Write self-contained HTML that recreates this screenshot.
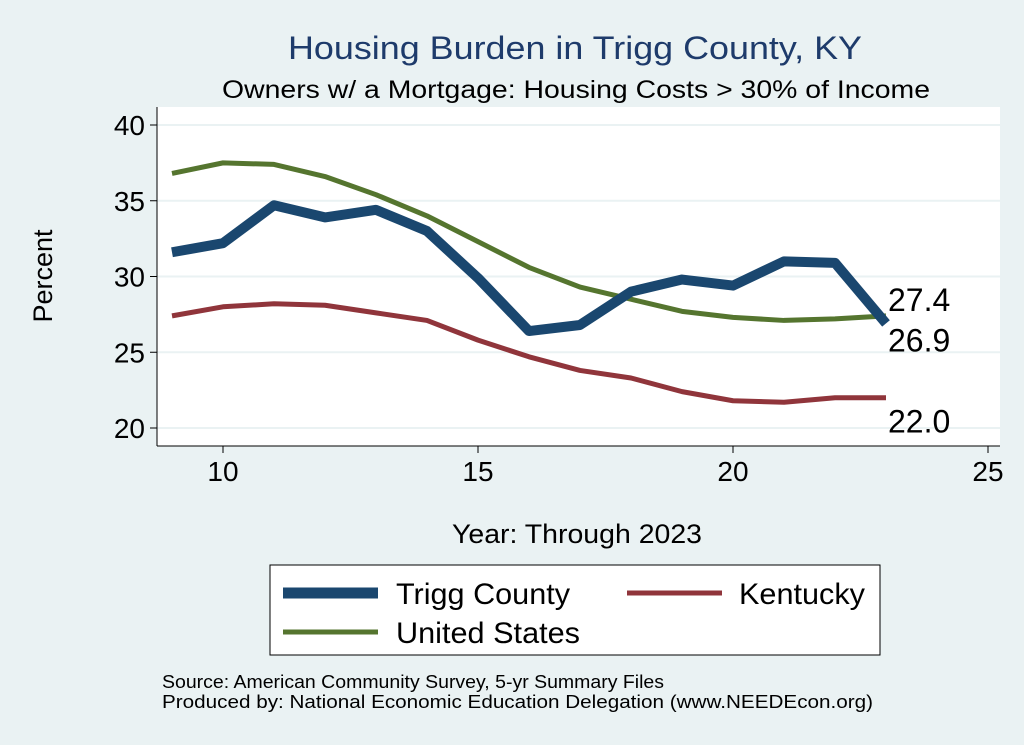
<!DOCTYPE html>
<html><head><meta charset="utf-8"><style>
body{margin:0;background:#eaf2f3;}
svg{display:block;font-family:"Liberation Sans",Arial,sans-serif;}
</style></head><body>
<svg width="1024" height="745">
<rect x="0" y="0" width="1024" height="745" fill="#eaf2f3"/>
<rect x="157" y="107" width="843" height="339" fill="#ffffff"/>
<text x="288" y="59" font-size="32" textLength="574" lengthAdjust="spacingAndGlyphs" fill="#1e3b6b">Housing Burden in Trigg County, KY</text>
<text x="222" y="98" font-size="25" textLength="708" lengthAdjust="spacingAndGlyphs" fill="#000">Owners w/ a Mortgage: Housing Costs &gt; 30% of Income</text>
<g id="grid"></g><g id="axes"></g><g id="lines"></g>
<text x="52" y="276" text-anchor="middle" font-size="27" transform="rotate(-90 52 276)">Percent</text>
<text x="452" y="543" font-size="27" textLength="250" lengthAdjust="spacingAndGlyphs">Year: Through 2023</text>
<g>
<rect x="270" y="565" width="610" height="90" fill="#fff" stroke="#000" stroke-width="1"/>
<line x1="283" y1="593" x2="378" y2="593" stroke="#1a476f" stroke-width="11"/>
<text x="396" y="604" font-size="30" textLength="174" lengthAdjust="spacingAndGlyphs">Trigg County</text>
<line x1="627" y1="593" x2="722" y2="593" stroke="#90353b" stroke-width="5"/>
<text x="739" y="604" font-size="30" textLength="126" lengthAdjust="spacingAndGlyphs">Kentucky</text>
<line x1="283" y1="632" x2="378" y2="632" stroke="#55752f" stroke-width="5"/>
<text x="396" y="643" font-size="30" textLength="184" lengthAdjust="spacingAndGlyphs">United States</text>
</g>
<text x="162" y="688" font-size="18" textLength="502" lengthAdjust="spacingAndGlyphs">Source: American Community Survey, 5-yr Summary Files</text>
<text x="162" y="708" font-size="18" textLength="711" lengthAdjust="spacingAndGlyphs">Produced by: National Economic Education Delegation (www.NEEDEcon.org)</text>
</svg>
<script>
const years=[9,10,11,12,13,14,15,16,17,18,19,20,21,22,23];
const trigg=[31.6,32.2,34.7,33.9,34.4,33.0,29.9,26.4,26.8,29.0,29.8,29.4,31.0,30.9,26.9];
const kentucky=[27.4,28.0,28.2,28.1,27.6,27.1,25.8,24.7,23.8,23.3,22.4,21.8,21.7,22.0,22.0];
const usa=[36.8,37.5,37.4,36.6,35.4,34.0,32.3,30.6,29.3,28.5,27.7,27.3,27.1,27.2,27.4];
const yTicks=[20,25,30,35,40];
const xTicks=[10,15,20,25];
const NS='http://www.w3.org/2000/svg';
const X=v=>223+(v-10)*51;
const Y=v=>428-(v-20)*15.15;
function mk(tag,attrs,parent,txt){const e=document.createElementNS(NS,tag);for(const k in attrs)e.setAttribute(k,attrs[k]);if(txt!==undefined)e.textContent=txt;parent.appendChild(e);return e;}
const grid=document.getElementById('grid'),axes=document.getElementById('axes'),lines=document.getElementById('lines');
yTicks.forEach(t=>{
 const g=mk('line',{x1:157,x2:1000,y1:Y(t),y2:Y(t),stroke:'#eaf2f3','stroke-width':2},grid);
 
 
 mk('line',{x1:150,x2:157,y1:Y(t),y2:Y(t),stroke:'#000'},axes);
 const l=mk('text',{x:145,y:Y(t)+10,'text-anchor':'end','font-size':28},axes,String(t));
 
 
});
mk('line',{x1:157,x2:157,y1:107,y2:446,stroke:'#000'},axes);
mk('line',{x1:157,x2:1000,y1:446,y2:446,stroke:'#000'},axes);
xTicks.forEach(t=>{
 mk('line',{x1:X(t),x2:X(t),y1:446,y2:453,stroke:'#000'},axes);
 const l=mk('text',{x:X(t),y:481,'text-anchor':'middle','font-size':28},axes,String(t));
 
 
});
function series(vals,color,w,name){
 const p=mk('polyline',{points:years.map((y,i)=>X(y)+','+Y(vals[i])).join(' '),fill:'none',stroke:color,'stroke-width':w,'stroke-linejoin':'round'},lines);
 
 
}
series(kentucky,'#90353b',5,'kentucky-line');
series(usa,'#55752f',5,'us-line');
series(trigg,'#1a476f',10,'trigg-line');
const n=years.length-1;
[[usa[n],-5,'us-end-label'],[trigg[n],28,'trigg-end-label'],[kentucky[n],35,'kentucky-end-label']].forEach(([v,dy,nm])=>{
 const t=mk('text',{x:X(years[n])+2,y:Y(v)+dy,'font-size':32},lines,v.toFixed(1));
 
 
});
</script>
</body></html>
